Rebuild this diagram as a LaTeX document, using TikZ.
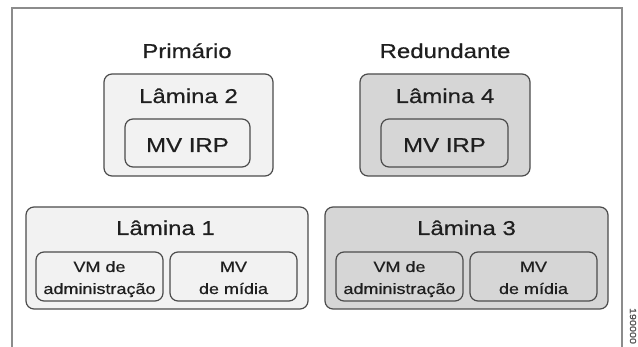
\documentclass[tikz,border=0pt]{standalone}
\usepackage{fontspec}
\setmainfont{Liberation Sans}[FakeStretch=1.2,FakeBold=0.5]
\begin{document}
\begin{tikzpicture}[x=1pt,y=-1pt,
  txt/.style={text=black!88, inner sep=0pt, anchor=base},
  bigtxt/.style={txt, font=\fontsize{20}{24}\selectfont},
  smalltxt/.style={txt, font=\fontsize{15}{18}\selectfont},
  lamina/.style={draw=black!70, line width=1.2pt, rounded corners=8pt, inner sep=0pt},
  inner/.style={draw=black!70, line width=1.2pt, rounded corners=8pt, inner sep=0pt},
  lightbox/.style={fill=black!5},
  darkbox/.style={fill=black!16},
  frame/.style={draw=black!45, line width=2pt}
]
\useasboundingbox (0,0) rectangle (638,347);
\fill[white] (0,0) rectangle (638,347);
% outer frame
\coordinate (fbl) at (12,348);
\coordinate (ftl) at (12,8);
\coordinate (ftr) at (622,8);
\coordinate (fbr) at (622,348);
\draw[frame] (fbl) -- (ftl) -- (ftr) -- (fbr);

% headings
\node[bigtxt] (prim) at (187,58) {Primário};
\node[bigtxt] (red) at (445,58) {Redundante};

% Lamina 2
\node[lamina, lightbox, minimum width=169pt, minimum height=102pt] (l2) at (188.5,125) {};
\node[bigtxt] (l2t) at (188.5,103) {Lâmina 2};
\node[inner, lightbox, minimum width=125pt, minimum height=48pt] (irp2) at (187.5,143) {};
\node[bigtxt] (irp2t) at (187.5,152) {MV IRP};

% Lamina 4
\node[lamina, darkbox, minimum width=170pt, minimum height=102pt] (l4) at (445,125) {};
\node[bigtxt] (l4t) at (445,103) {Lâmina 4};
\node[inner, darkbox, minimum width=127pt, minimum height=48pt] (irp4) at (444.5,143) {};
\node[bigtxt] (irp4t) at (444.5,152) {MV IRP};

% Lamina 1
\node[lamina, lightbox, minimum width=282pt, minimum height=102pt] (l1) at (167,258) {};
\node[bigtxt] (l1t) at (165.5,235) {Lâmina 1};
\node[inner, lightbox, minimum width=127pt, minimum height=49pt] (adm1) at (99.5,276.5) {};
\node[smalltxt] (adm1a) at (99.5,272) {VM de};
\node[smalltxt] (adm1b) at (99.5,294) {administração};
\node[inner, lightbox, minimum width=127pt, minimum height=49pt] (mid1) at (233.5,276.5) {};
\node[smalltxt] (mid1a) at (233.5,272) {MV};
\node[smalltxt] (mid1b) at (233.5,294) {de mídia};

% Lamina 3
\node[lamina, darkbox, minimum width=283pt, minimum height=102pt] (l3) at (466.5,258) {};
\node[bigtxt] (l3t) at (466.5,235) {Lâmina 3};
\node[inner, darkbox, minimum width=127pt, minimum height=49pt] (adm3) at (399.5,276.5) {};
\node[smalltxt] (adm3a) at (399.5,272) {VM de};
\node[smalltxt] (adm3b) at (399.5,294) {administração};
\node[inner, darkbox, minimum width=127pt, minimum height=49pt] (mid3) at (533.5,276.5) {};
\node[smalltxt] (mid3a) at (533.5,272) {MV};
\node[smalltxt] (mid3b) at (533.5,294) {de mídia};

% figure id
\node[rotate=-90, anchor=center, inner sep=0pt, text=black!70, font=\fontsize{9}{10}\selectfont] (figid) at (633,326) {190000};
\end{tikzpicture}
\end{document}
